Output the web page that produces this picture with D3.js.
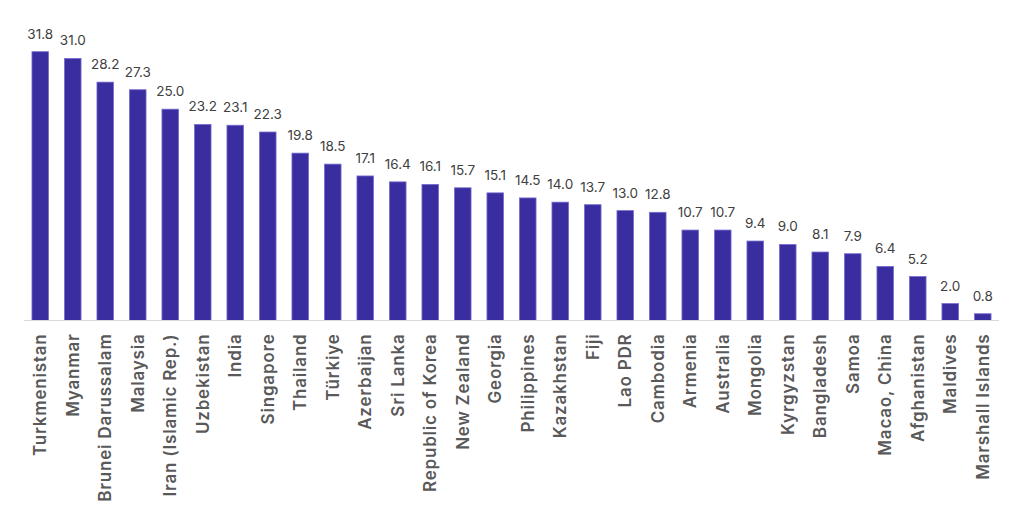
<!DOCTYPE html>
<html>
<head>
<meta charset="utf-8">
<script src="https://cdn.jsdelivr.net/npm/d3@7"></script>
<style>
  body { margin: 0; background: #fff; }
</style>
</head>
<body>
<div id="chart-container"></div>
<script>
const countries = ["Turkmenistan", "Myanmar", "Brunei Darussalam", "Malaysia", "Iran (Islamic Rep.)",
  "Uzbekistan", "India", "Singapore", "Thailand", "Türkiye", "Azerbaijan", "Sri Lanka",
  "Republic of Korea", "New Zealand", "Georgia", "Philippines", "Kazakhstan", "Fiji", "Lao PDR",
  "Cambodia", "Armenia", "Australia", "Mongolia", "Kyrgyzstan", "Bangladesh", "Samoa",
  "Macao, China", "Afghanistan", "Maldives", "Marshall Islands"]
const values = [31.8, 31.0, 28.2, 27.3, 25.0, 23.2, 23.1, 22.3, 19.8, 18.5, 17.1, 16.4,
  16.1, 15.7, 15.1, 14.5, 14.0, 13.7, 13.0, 12.8, 10.7, 10.7, 9.4, 9.0, 8.1, 7.9,
  6.4, 5.2, 2.0, 0.8]

const data = countries.map((c, i) => ({country: c, value: values[i]}))

const width = 1024
const height = 519
const baseline = 320.5

const svg = d3.select('#chart-container')
  .append('svg')
  .attr('width', width)
  .attr('height', height)
  .style('font-family', 'Inter, "Liberation Sans", Arial, sans-serif')

const xScale = d3.scaleBand()
  .domain(countries)
  .range([24, 999])
  .paddingInner(0.49)
  .paddingOuter(0.245)

const yScale = d3.scaleLinear()
  .domain([0, 31.8])
  .range([baseline, 51.7])

svg.selectAll('rect.bar')
  .data(data)
  .enter()
  .append('rect')
  .attr('class', 'bar')
  .attr('x', d => xScale(d.country))
  .attr('y', d => yScale(d.value))
  .attr('width', xScale.bandwidth())
  .attr('height', d => baseline - yScale(d.value))
  .attr('fill', '#3a2d9f')
  .attr('stroke', '#766dd0')
  .attr('stroke-width', 0.8)

// baseline
svg.append('line')
  .attr('x1', 24).attr('x2', 999)
  .attr('y1', baseline).attr('y2', baseline)
  .attr('stroke', '#d9d9d9')
  .attr('stroke-width', 1.2)

// value labels
svg.selectAll('text.val')
  .data(data)
  .enter()
  .append('text')
  .attr('class', 'val')
  .attr('x', d => xScale(d.country) + xScale.bandwidth() / 2)
  .attr('y', d => yScale(d.value) - 13)
  .attr('text-anchor', 'middle')
  .attr('font-size', 13.5)
  .attr('fill', '#404040')
  .text(d => d.value.toFixed(1))

// category labels
svg.selectAll('text.cat')
  .data(data)
  .enter()
  .append('text')
  .attr('class', 'cat')
  .attr('transform', d => `translate(${xScale(d.country) + xScale.bandwidth() / 2 + 6},${baseline + 13}) rotate(-90)`)
  .attr('text-anchor', 'end')
  .attr('font-size', 17)
  .attr('font-weight', 600)
  .attr('letter-spacing', 0.8)
  .attr('fill', '#595959')
  .text(d => d.country)
</script>
</body>
</html>
